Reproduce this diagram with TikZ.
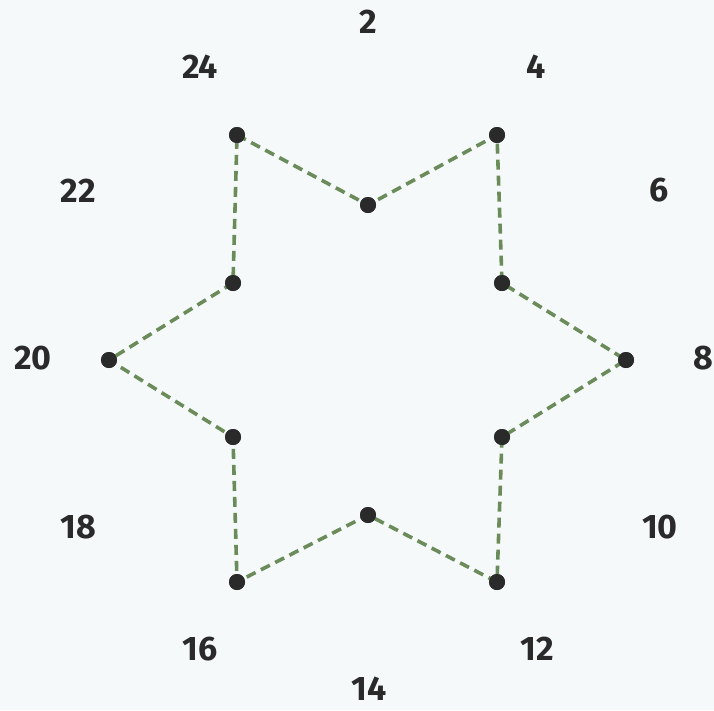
\documentclass[tikz,border=0pt]{standalone}
\usepackage{fontspec}
\setmainfont{Fira Sans}
\definecolor{bg}{HTML}{F5F9FA}
\definecolor{ln}{HTML}{6B8C5A}
\definecolor{dot}{HTML}{2A2A2A}
\definecolor{txt}{HTML}{2A2A2A}
\begin{document}
\begin{tikzpicture}[x=1pt,y=-1pt,
  pt/.style={circle,fill=dot,inner sep=0pt,minimum size=16pt},
  lbl/.style={text=txt,font=\fontsize{34}{38}\selectfont\bfseries,inner sep=0pt},
  edge/.style={ln,line width=3.6pt,dash pattern=on 10pt off 6pt}]
\fill[bg] (0,0) rectangle (714,710);
\useasboundingbox (0,0) rectangle (714,710);
% points
\node[pt] (o1) at (237,135) {};
\node[pt] (i1) at (368,205) {};
\node[pt] (o2) at (497,135) {};
\node[pt] (i2) at (502,283) {};
\node[pt] (o3) at (626,360) {};
\node[pt] (i3) at (502,437) {};
\node[pt] (o4) at (497,582) {};
\node[pt] (i4) at (368,515) {};
\node[pt] (o5) at (237,582) {};
\node[pt] (i5) at (233,437) {};
\node[pt] (o6) at (109,360) {};
\node[pt] (i6) at (233,283) {};
\draw[edge] (o1.center) -- (i1.center) -- (o2.center) -- (i2.center) -- (o3.center) -- (i3.center) -- (o4.center) -- (i4.center) -- (o5.center) -- (i5.center) -- (o6.center) -- (i6.center) -- cycle;
\foreach \n in {o1,i1,o2,i2,o3,i3,o4,i4,o5,i5,o6,i6} \fill[dot] (\n) circle (8pt);
% labels
\node[lbl] (l2) at (368,22) {2};
\node[lbl] (l4) at (536,67) {4};
\node[lbl] (l6) at (659,190) {6};
\node[lbl] (l8) at (703,358) {8};
\node[lbl] (l10) at (660,527) {10};
\node[lbl] (l12) at (537,649) {12};
\node[lbl] (l14) at (369,689) {14};
\node[lbl] (l16) at (200,649) {16};
\node[lbl] (l18) at (78,527) {18};
\node[lbl] (l20) at (33,358) {20};
\node[lbl] (l22) at (78,191) {22};
\node[lbl] (l24) at (200,67) {24};
\end{tikzpicture}
\end{document}
